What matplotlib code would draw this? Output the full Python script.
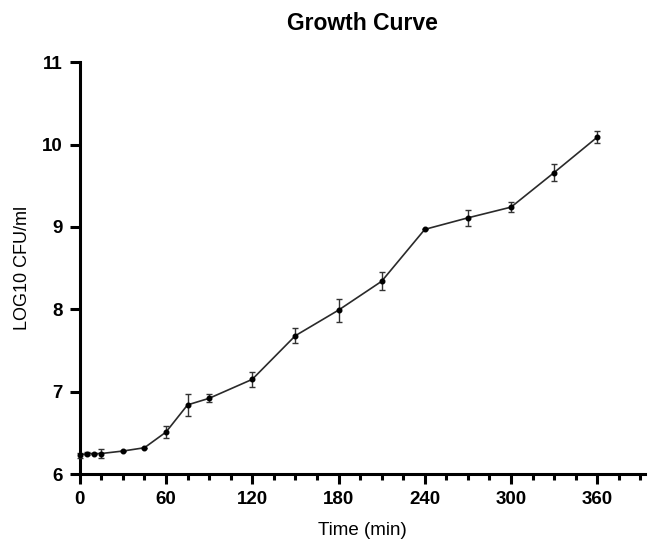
import matplotlib.pyplot as plt
from matplotlib.ticker import MultipleLocator

plt.rcParams['font.family'] = ['Liberation Sans', 'DejaVu Sans']

# growth curve data
time_min = [0, 5, 10, 15, 30, 45, 60, 75, 90, 120, 150, 180, 210, 240, 270, 300, 330, 360]
log_cfu = [6.23, 6.25, 6.25, 6.25, 6.28, 6.32, 6.51, 6.84, 6.92, 7.15, 7.68, 7.99, 8.34, 8.97, 9.11, 9.24, 9.66, 10.09]
sd = [0.03, 0.02, 0.0, 0.05, 0.0, 0.0, 0.07, 0.13, 0.05, 0.09, 0.09, 0.14, 0.11, 0.0, 0.1, 0.06, 0.1, 0.07]

fig = plt.figure(figsize=(6.48, 5.4), dpi=100)
ax = fig.add_axes([0.123, 0.122, 0.872, 0.763])

ax.errorbar(time_min, log_cfu, yerr=sd, color='#2a2a2a', lw=1.2, marker='o', ms=3.3,
            mfc='black', mec='black', ecolor='#333333', elinewidth=1.0, capsize=2.5, capthick=1.0,
            clip_on=False, zorder=3)

ax.set_xlim(0, 393)
ax.set_ylim(6, 11)
ax.xaxis.set_major_locator(MultipleLocator(60))
ax.xaxis.set_minor_locator(MultipleLocator(15))
ax.yaxis.set_major_locator(MultipleLocator(1))

for side in ['top', 'right']:
    ax.spines[side].set_visible(False)
for side in ['left', 'bottom']:
    ax.spines[side].set_linewidth(2.2)

ax.tick_params(axis='both', which='major', length=7, width=2.2, labelsize=13.5, pad=5)
ax.tick_params(axis='x', which='minor', length=4, width=2.2)
for lab in ax.get_xticklabels() + ax.get_yticklabels():
    lab.set_fontweight('bold')

ax.set_xlabel('Time (min)', fontsize=13.5, labelpad=10)
ax.set_ylabel('LOG10 CFU/ml', fontsize=13, labelpad=8)
ax.set_title('Growth Curve', fontsize=16.5, fontweight='bold', pad=23)

fig.savefig('out.png', dpi=100)
